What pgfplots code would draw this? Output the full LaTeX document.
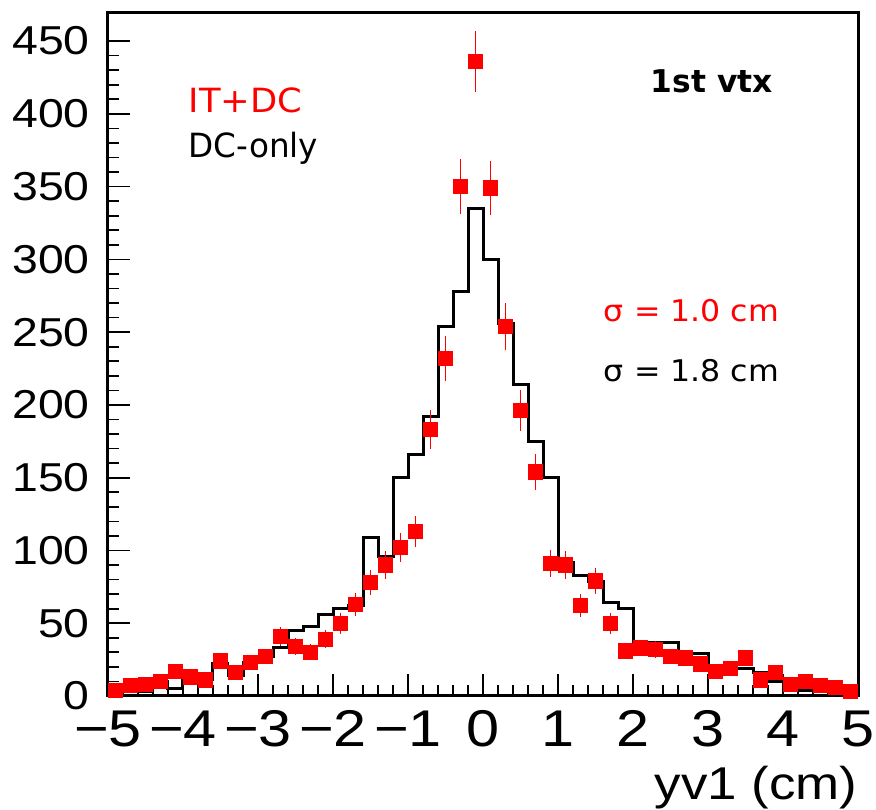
\documentclass[border=0pt]{standalone}
\usepackage{fontspec}
\setmainfont{Liberation Sans}
\newfontfamily\rootfont{Liberation Sans}[FakeStretch=1.15]
\newfontfamily\dvfont{DejaVu Sans}[FakeStretch=1.06]
\newfontfamily\dvnarrow{DejaVu Sans}[FakeStretch=0.98]
\newfontfamily\dvbold{DejaVu Sans Bold}
\usepackage{pgfplots}
\usepackage{pgfplotstable}
\pgfplotsset{compat=1.18}
\usetikzlibrary{calc}

% IT+DC: bin centre, counts, sqrt(counts)
\pgfplotstableread{
x y e
-4.9 4 2.00
-4.7 7 2.65
-4.5 8 2.83
-4.3 10 3.16
-4.1 17 4.12
-3.9 13 3.61
-3.7 11 3.32
-3.5 24 4.90
-3.3 16 4.00
-3.1 23 4.80
-2.9 27 5.20
-2.7 41 6.40
-2.5 34 5.83
-2.3 30 5.48
-2.1 39 6.24
-1.9 50 7.07
-1.7 63 7.94
-1.5 78 8.83
-1.3 90 9.49
-1.1 102 10.10
-0.9 113 10.63
-0.7 183 13.53
-0.5 232 15.23
-0.3 350 18.71
-0.1 436 20.88
0.1 349 18.68
0.3 254 15.94
0.5 196 14.00
0.7 154 12.41
0.9 91 9.54
1.1 90 9.49
1.3 62 7.87
1.5 79 8.89
1.7 50 7.07
1.9 31 5.57
2.1 33 5.74
2.3 32 5.66
2.5 27 5.20
2.7 26 5.10
2.9 22 4.69
3.1 17 4.12
3.3 19 4.36
3.5 26 5.10
3.7 11 3.32
3.9 16 4.00
4.1 8 2.83
4.3 10 3.16
4.5 7 2.65
4.7 6 2.45
4.9 3 1.73
}\itdc

% DC-only: bin low edge, counts
\pgfplotstableread{
x y
-5.0 3
-4.8 3
-4.6 3
-4.4 10
-4.2 5
-4.0 12
-3.8 11
-3.6 22
-3.4 14
-3.2 23
-3.0 27
-2.8 33
-2.6 45
-2.4 48
-2.2 56
-2.0 60
-1.8 62
-1.6 109
-1.4 96
-1.2 150
-1.0 166
-0.8 192
-0.6 254
-0.4 278
-0.2 335
0.0 300
0.2 256
0.4 214
0.6 175
0.8 150
1.0 92
1.2 83
1.4 79
1.6 64
1.8 60
2.0 37
2.2 37
2.4 37
2.6 29
2.8 29
3.0 19
3.2 19
3.4 19
3.6 16
3.8 10
4.0 9
4.2 4
4.4 8
4.6 6
4.8 4
5.0 4
}\dconly

\begin{document}
\begin{tikzpicture}
\begin{axis}[
    width=225pt, height=205.2pt, scale only axis,
    xmin=-5, xmax=5, ymin=0, ymax=470,
    axis line style={line width=0.9pt},
    tick align=inside, xtick pos=bottom, ytick pos=left,
    xtick={-5,-4,...,5},
    xticklabels={−5,−4,−3,−2,−1,0,1,2,3,4,5},
    ytick={0,50,...,450},
    yticklabels={0,50,100,150,200,250,300,350,400,450},
    minor x tick num=4, minor y tick num=4,
    major tick length=6.6pt, minor tick length=3.3pt,
    tick style={line width=0.5pt, black},
    xticklabel style={font=\rootfont\fontsize{15.5}{16}\selectfont, inner sep=0pt, anchor=north, yshift=-4.2pt},
    yticklabel style={font=\rootfont\fontsize{12.1}{12}\selectfont, inner sep=0pt, anchor=east, xshift=-5.3pt},
    xlabel={yv1 (cm)},
    xlabel style={at={(rel axis cs:1,0)}, anchor=base east, inner sep=0pt, yshift=-31.2pt, font=\rootfont\fontsize{13.8}{14}\selectfont},
]
\addplot[const plot mark left, black, line width=0.9pt, no marks] table[x=x, y=y] {\dconly};
\addplot[only marks, mark=square*, mark size=2.1pt, color=red,
    error bars/.cd, y dir=both, y explicit, error mark=none,
    error bar style={line width=0.45pt, red}]
    table[x=x, y=y, y error=e] {\itdc};

\node[anchor=base west, inner sep=0pt, text=red, font=\dvfont\fontsize{10}{12}\selectfont] at (axis cs:-3.933,401) {IT+DC};
\node[anchor=base west, inner sep=0pt, font=\dvnarrow\fontsize{10}{12}\selectfont] at (axis cs:-3.933,370) {DC-only};
\node[anchor=base west, inner sep=0pt, font=\dvbold\fontsize{9.4}{12}\selectfont] at (axis cs:2.227,414.5) {1st vtx};
\node[anchor=base west, inner sep=0pt, text=red, font=\dvfont\fontsize{8.95}{11}\selectfont] at (axis cs:1.604,257.4) {σ = 1.0 cm};
\node[anchor=base west, inner sep=0pt, font=\dvfont\fontsize{8.95}{11}\selectfont] at (axis cs:1.604,216.2) {σ = 1.8 cm};
\end{axis}
\pgfresetboundingbox
\path[use as bounding box] ($(current axis.south west)+(-32.4pt,-34.2pt)$) rectangle ($(current axis.north east)+(5.4pt,3.6pt)$);
\end{tikzpicture}
\end{document}
